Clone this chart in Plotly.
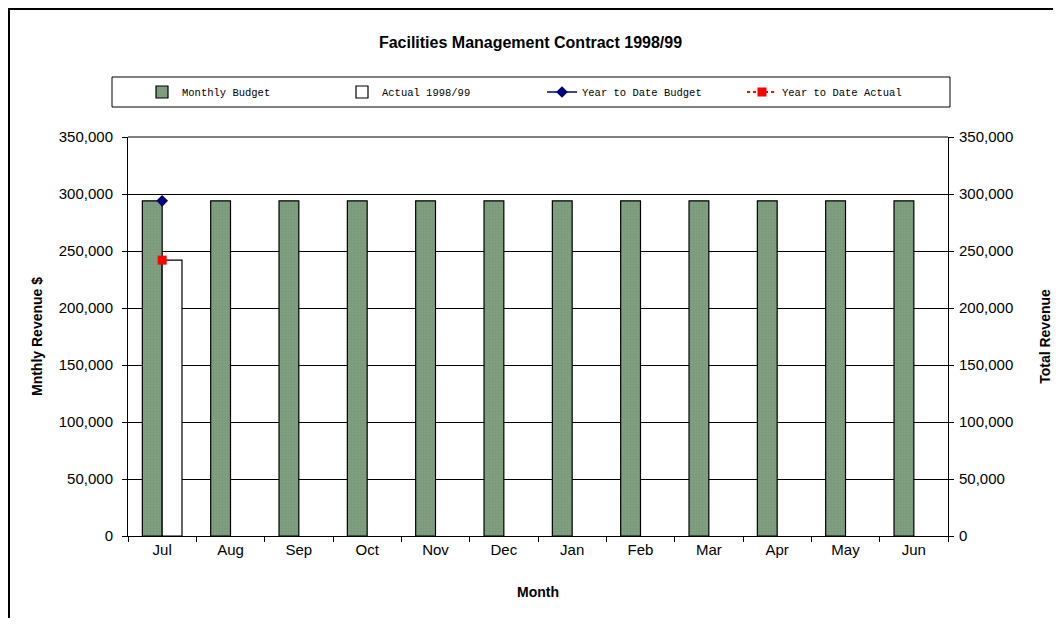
import plotly.graph_objects as go

months = ["Jul", "Aug", "Sep", "Oct", "Nov", "Dec", "Jan", "Feb", "Mar", "Apr", "May", "Jun"]
monthly_budget = [294000] * 12
actual_9899 = [242000] + [None] * 11
ytd_budget = [294000] + [None] * 11
ytd_actual = [242000] + [None] * 11
y_ticks = [0, 50000, 100000, 150000, 200000, 250000, 300000, 350000]

# page body has an 8px margin; work in figure pixel coords (screen - 8)
OFF = 8
W, H = 1061 - 2 * OFF, 626 - 2 * OFF
L, T = 128 - OFF, 137 - OFF
R = W - (948 - OFF)
B = H - (536 - OFF)
pw, ph = W - L - R, H - T - B

def px2x(p):
    return (p - OFF - L) / pw

def px2y(p):
    return (H - B - (p - OFF)) / ph

fig = go.Figure()
fig.add_trace(go.Bar(
    x=months, y=monthly_budget, name="Monthly Budget",
    marker=dict(color="#7f9f80", line=dict(color="#000000", width=1.2),
                pattern=dict(shape=".", fgcolor="#6f8f70", size=3, solidity=0.3)),
))
fig.add_trace(go.Bar(
    x=months, y=actual_9899, name="Actual 1998/99",
    marker=dict(color="#ffffff", line=dict(color="#000000", width=1.2)),
))
fig.add_trace(go.Scatter(
    x=months, y=ytd_budget, name="Year to Date Budget", mode="lines+markers",
    line=dict(color="#000080", width=1.5),
    marker=dict(symbol="diamond", size=9, color="#000080"),
    yaxis="y2",
))
fig.add_trace(go.Scatter(
    x=months, y=ytd_actual, name="Year to Date Actual", mode="lines+markers",
    line=dict(color="#ff0000", width=2, dash="dot"),
    marker=dict(symbol="square", size=9, color="#ff0000"),
    yaxis="y2",
))

axis_font = dict(family="Arial, Liberation Sans, sans-serif", size=15, color="#000000")
title_font = dict(family="Arial, Liberation Sans, sans-serif", size=14, color="#000000")
tick_text = [f"{v:,}" for v in y_ticks]

fig.update_layout(
    width=W, height=H,
    margin=dict(l=L, r=R, t=T, b=B, autoexpand=False),
    paper_bgcolor="white", plot_bgcolor="white",
    barmode="group", bargap=0.42, bargroupgap=0.0,
    title=dict(text="<b>Facilities Management Contract 1998/99</b>",
               x=0.5, xanchor="center", y=1 - (42 - OFF) / H, yanchor="middle",
               font=dict(family="Arial, Liberation Sans, sans-serif", size=16, color="#000000")),
    font=axis_font,
    showlegend=True,
    legend=dict(orientation="h", x=px2x(142), xanchor="left", y=px2y(92), yanchor="middle",
                bgcolor="rgba(0,0,0,0)", borderwidth=0,
                entrywidth=155, entrywidthmode="pixels",
                font=dict(family="Liberation Mono, monospace", size=10.5, color="#000000"),
                traceorder="normal"),
    xaxis=dict(
        title=dict(text="<b>Month</b>", font=title_font, standoff=30),
        range=[-0.5, len(months) - 0.5],
        showline=True, linecolor="#000000", linewidth=1,
        ticks="outside", tickson="boundaries", ticklen=5, tickcolor="#000000",
        showgrid=False, tickfont=axis_font,
    ),
    yaxis=dict(
        title=dict(text="<b>Mnthly Revenue $</b>", font=title_font, standoff=12),
        range=[0, 350000], tickvals=y_ticks, ticktext=tick_text,
        showline=True, linecolor="#000000", linewidth=1,
        ticks="outside", ticklen=5, tickcolor="#000000", ticklabelstandoff=6,
        showgrid=True, gridcolor="#000000", gridwidth=1,
        zeroline=False, tickfont=axis_font,
    ),
    yaxis2=dict(
        title=dict(text="<b>Total Revenue</b>", font=title_font, standoff=35),
        range=[0, 350000], tickvals=y_ticks, ticktext=tick_text,
        overlaying="y", side="right",
        showline=True, linecolor="#000000", linewidth=1,
        ticks="outside", ticklen=5, tickcolor="#000000", ticklabelstandoff=2,
        showgrid=False, zeroline=False, tickfont=axis_font,
    ),
    shapes=[
        dict(type="rect", xref="paper", yref="paper",
             x0=px2x(9), x1=px2x(1080), y0=px2y(9), y1=px2y(660),
             line=dict(color="#000000", width=2), fillcolor="rgba(0,0,0,0)", layer="below"),
        dict(type="rect", xref="paper", yref="paper",
             x0=px2x(112), x1=px2x(950), y0=px2y(77), y1=px2y(107),
             line=dict(color="#000000", width=1), fillcolor="white", layer="below"),
        dict(type="line", xref="paper", yref="paper", x0=0, x1=1, y0=1, y1=1,
             line=dict(color="#808080", width=2)),
    ],
)

fig.write_html("out.html")
